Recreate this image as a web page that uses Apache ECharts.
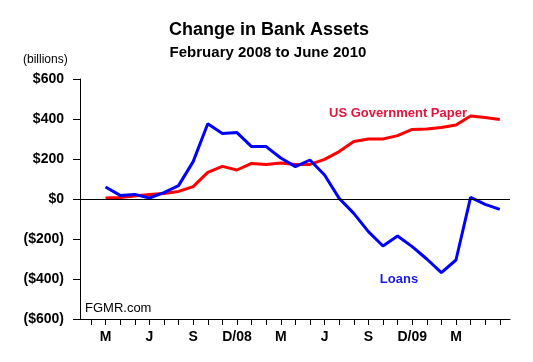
<!DOCTYPE html>
<html>
<head>
<meta charset="utf-8">
<script src="https://cdn.jsdelivr.net/npm/echarts@6/dist/echarts.min.js"></script>
<style>
html,body{margin:0;padding:0;background:#fff;}
#chart{width:533px;height:362px;}
</style>
</head>
<body>
<div id="chart"></div>
<script>
// Months Feb 2008 .. Jun 2010 (index 0 = Feb 2008, the base month)
const months = ['Feb 08','Mar 08','Apr 08','May 08','Jun 08','Jul 08','Aug 08','Sep 08','Oct 08','Nov 08','Dec 08',
  'Jan 09','Feb 09','Mar 09','Apr 09','May 09','Jun 09','Jul 09','Aug 09','Sep 09','Oct 09','Nov 09','Dec 09',
  'Jan 10','Feb 10','Mar 10','Apr 10','May 10','Jun 10'];
// Values Mar 08 .. Jun 10 ($ billions change since Feb 2008)
const loans = [60, 18, 23, 5, 32, 67, 187, 376, 328, 332, 262, 262, 205, 162, 195, 120, 3, -72, -163, -235, -185, -238, -300, -368, -305, 8, -27, -52];
const govPaper = [5, 7, 15, 22, 28, 38, 62, 133, 163, 145, 178, 172, 180, 173, 173, 198, 237, 287, 300, 300, 317, 348, 350, 358, 370, 415, 407, 397];
const tickLabelIdx = [1, 4, 7, 10, 13, 16, 19, 22, 25];
const tickLabels = ['M', 'J', 'S', 'D/08', 'M', 'J', 'S', 'D/09', 'M'];

const font = '"Liberation Sans", Arial, sans-serif';
const toPts = arr => arr.map((v, i) => [i + 1, v]);
const allTickIdx = months.map((m, i) => i);

const chart = echarts.init(document.getElementById('chart'), null, {renderer: 'canvas'});
chart.setOption({
  animation: false,
  backgroundColor: '#fff',
  grid: {left: 80, right: 23, top: 79, bottom: 43},
  xAxis: {
    type: 'value',
    min: -0.75,
    max: 28.7,
    axisLine: {show: true, onZero: false, lineStyle: {color: '#000', width: 1}},
    axisTick: {show: true, customValues: allTickIdx, length: 6, lineStyle: {color: '#000'}},
    axisLabel: {
      customValues: tickLabelIdx,
      formatter: v => tickLabels[tickLabelIdx.indexOf(Math.round(v))] || '',
      color: '#000', fontFamily: font, fontWeight: 'bold', fontSize: 14, margin: 11
    },
    splitLine: {show: false}
  },
  yAxis: {
    type: 'value',
    min: -600,
    max: 600,
    interval: 200,
    axisLine: {show: true, onZero: false, lineStyle: {color: '#000', width: 1}},
    axisTick: {show: true, inside: false, length: 7, lineStyle: {color: '#000'}},
    axisLabel: {
      formatter: v => v >= 0 ? '$' + v : '($' + (-v) + ')',
      color: '#000', fontFamily: font, fontWeight: 'bold', fontSize: 14, margin: 16
    },
    splitLine: {show: false}
  },
  series: [
    {
      name: 'US Government Paper',
      type: 'line',
      data: toPts(govPaper),
      symbol: 'none',
      lineStyle: {color: '#ff0000', width: 3},
      z: 3,
      markLine: {
        silent: true, symbol: 'none', label: {show: false},
        lineStyle: {color: '#000', width: 1.2, type: 'solid'},
        data: [{yAxis: 0}]
      }
    },
    {
      name: 'Loans',
      type: 'line',
      data: toPts(loans),
      symbol: 'none',
      lineStyle: {color: '#0000ff', width: 3},
      z: 4
    }
  ],
  graphic: [
    {type: 'text', x: 269, y: 30, style: {text: 'Change in Bank Assets', fill: '#000', font: 'bold 18px ' + font, textAlign: 'center', textVerticalAlign: 'middle'}},
    {type: 'text', x: 268, y: 53, style: {text: 'February 2008 to June 2010', fill: '#000', font: 'bold 15px ' + font, textAlign: 'center', textVerticalAlign: 'middle'}},
    {type: 'text', x: 23, y: 60, style: {text: '(billions)', fill: '#000', font: '12px ' + font, textVerticalAlign: 'middle'}},
    {type: 'text', x: 85, y: 308, style: {text: 'FGMR.com', fill: '#000', font: '13px ' + font, textVerticalAlign: 'middle'}},
    {type: 'text', x: 398, y: 113, style: {text: 'US Government Paper', fill: '#e0143c', font: 'bold 13px ' + font, textAlign: 'center', textVerticalAlign: 'middle'}},
    {type: 'text', x: 399, y: 279, style: {text: 'Loans', fill: '#1a1ae0', font: 'bold 13px ' + font, textAlign: 'center', textVerticalAlign: 'middle'}}
  ]
});
</script>
</body>
</html>
